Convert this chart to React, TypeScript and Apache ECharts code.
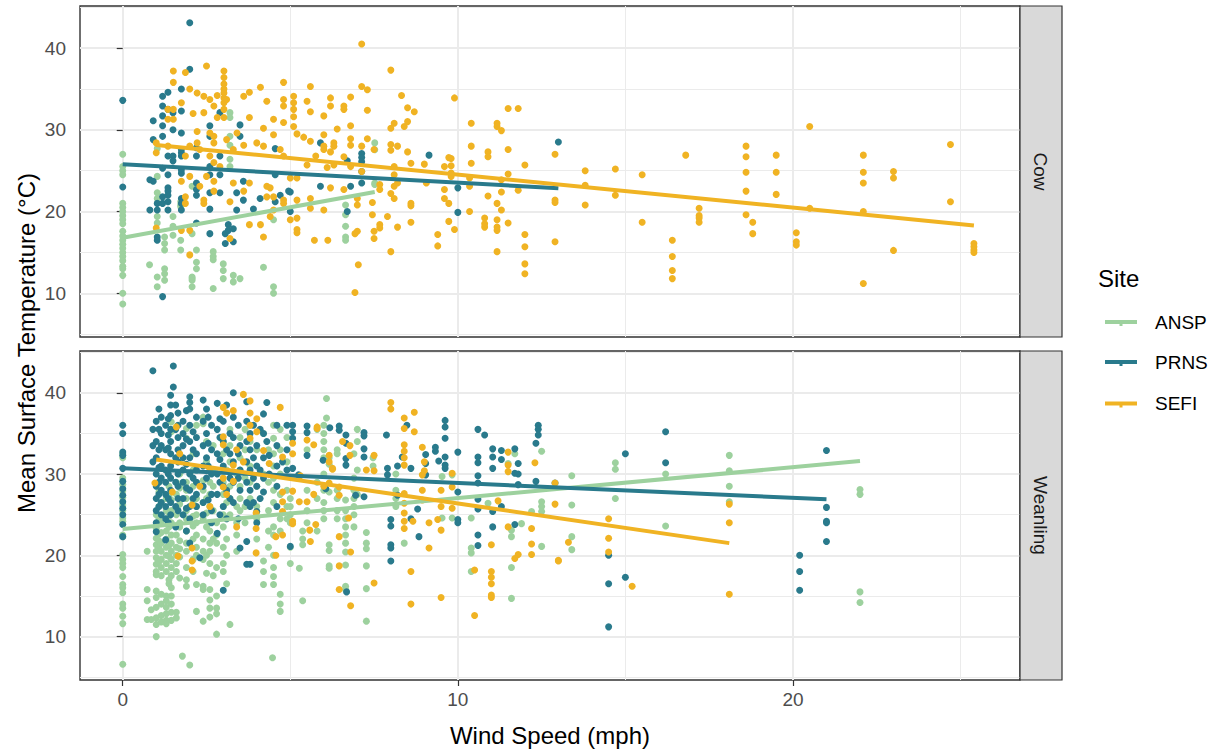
import React, { useEffect, useRef } from "react";
import * as echarts from "echarts";

// ---------- data ----------
const SITES = ["ANSP", "PRNS", "SEFI"];
const SITE_COLORS = ["#9DD19E", "#297A8C", "#F0B323"];
const FACETS = ["Cow", "Weanling"];
const X_TICKS = [0, 10, 20];
const X_MINOR = [5, 15, 25];
const Y_TICKS = [10, 20, 30, 40];
const Y_MINOR = [5, 15, 25, 35, 45];
const X_RANGE = [-1.275, 26.775];
const Y_RANGE = [4.66, 45.14];

// columns: [wind speed, [temperatures...]]
const cowANSP: [number, number[]][] = [
  [0, [27.0, 25.5, 25.0, 24.5, 21.0, 20.5, 20.0, 19.5, 19.0, 18.5, 17.6, 17.0, 16.5, 16.0, 15.5, 15.0, 14.5, 14.0, 13.3, 13.0, 12.2, 10.0, 8.7]],
  [0.8, [13.5]],
  [1.03, [27.7, 24.3, 22.3, 21.6, 19.4, 18.6, 12.0, 10.8]],
  [1.25, [16.9, 16.1, 15.3, 13.0, 12.4, 11.6]],
  [1.5, [19.4, 18.2, 17.1]],
  [1.73, [21.2, 20.8, 20.6, 16.5, 15.3]],
  [2.07, [23.1, 17.3, 12.0, 11.8, 11.6, 10.8]],
  [2.2, [15.3, 13.8, 13.0]],
  [2.7, [15.1, 14.5, 14.1, 10.6]],
  [3.0, [13.6, 12.8, 11.8]],
  [3.2, [32.1, 31.5, 29.2, 28.1, 26.4, 25.5]],
  [3.3, [12.2, 11.4]],
  [3.5, [11.8]],
  [4.2, [13.2]],
  [4.5, [19.0, 10.8, 10.0]],
  [6.65, [20.8, 19.6, 18.2, 16.9, 16.5]],
  [7.52, [28.4, 27.55, 23.5, 23.3]],
];

const cowPRNS: [number, number[]][] = [
  [0, [33.6, 23.0]],
  [0.81, [23.9, 20.2]],
  [0.91, [31.1, 28.8, 23.7]],
  [1.03, [21.0, 20.2, 16.9, 16.5]],
  [1.19, [34.1, 32.9, 31.7, 30.5, 29.2, 25.3, 21.8, 21.0, 9.6]],
  [1.35, [34.6, 32.5, 26.8, 24.5, 22.9, 22.5, 22.0, 21.2, 20.2]],
  [1.5, [32.1, 30.0, 26.8, 26.2]],
  [1.75, [35.0, 32.3, 29.6, 27.6, 27.2, 26.8, 25.1, 24.7, 21.6, 21.0, 20.2]],
  [2.0, [43.1, 37.4]],
  [2.2, [27.8, 26.8, 23.5, 22.7, 22.0, 18.6]],
  [2.6, [30.5, 29.2, 25.5, 24.5, 22.3, 20.3, 17.3]],
  [2.9, [32.1, 26.8, 24.5, 22.3]],
  [3.06, [17.3, 16.1]],
  [3.15, [18.4, 17.7]],
  [3.3, [17.9, 16.3]],
  [3.4, [22.3, 20.2]],
  [3.5, [30.6, 29.2]],
  [3.6, [23.7, 21.4]],
  [3.9, [20.3]],
  [4.1, [21.6]],
  [4.55, [27.7, 24.5, 21.2]],
  [4.7, [22.0]],
  [4.95, [22.5]],
  [5.0, [22.4, 20.0]],
  [5.9, [28.4, 23.1]],
  [6.7, [26.2, 20.0]],
  [6.8, [23.1]],
  [7.13, [27.1, 26.6, 26.1, 24.9, 23.5]],
  [9.14, [26.9]],
  [10.0, [22.9, 19.9]],
  [13.0, [28.5]],
];

const cowSEFI: [number, number[]][] = [
  [1.0, [28.4, 27.2, 18.0]],
  [1.35, [32.5, 31.3, 28.0]],
  [1.51, [37.2, 35.8, 32.5, 31.3]],
  [1.75, [33.3, 23.7, 17.7]],
  [1.87, [37.0, 26.8, 21.8, 21.0]],
  [2.0, [35.0, 28.0, 24.3, 17.7, 14.7]],
  [2.1, [32.0]],
  [2.22, [34.5, 29.8, 28.4]],
  [2.3, [27.6, 23.1]],
  [2.42, [34.1, 32.1, 21.4, 21.0]],
  [2.5, [37.8, 24.3]],
  [2.6, [33.7, 29.6, 26.8]],
  [2.72, [32.9, 29.2, 28.4, 26.0, 23.7, 22.5]],
  [2.82, [34.2, 31.5]],
  [2.9, [25.5]],
  [3.02, [37.2, 36.4, 35.6, 35.0, 34.5, 33.9, 33.3, 32.5, 31.5]],
  [3.1, [33.7, 28.8]],
  [3.2, [21.2, 16.7]],
  [3.3, [27.6, 23.5]],
  [3.41, [29.6]],
  [3.61, [34.1, 28.1, 22.5]],
  [3.78, [34.6, 31.5, 23.5, 18.4]],
  [4.0, [28.4]],
  [4.11, [35.2, 18.4]],
  [4.2, [30.2, 28.0, 16.9]],
  [4.3, [33.5, 23.1, 21.8]],
  [4.4, [22.9, 19.4]],
  [4.5, [31.3, 29.4, 21.8, 20.2]],
  [4.7, [27.6]],
  [4.8, [35.8, 33.7, 32.9, 30.9, 26.8, 21.4, 21.0]],
  [5.0, [24.1, 19.0]],
  [5.1, [34.1, 33.3, 32.5, 31.6, 30.4]],
  [5.2, [29.5, 24.1, 21.4, 19.2, 17.8, 17.4]],
  [5.4, [29.1]],
  [5.5, [33.5, 25.7]],
  [5.6, [35.3, 32.2, 28.6, 21.6, 20.4]],
  [5.72, [16.5]],
  [5.76, [26.8]],
  [6.0, [31.7, 29.4, 28.0, 27.6, 20.2]],
  [6.1, [25.4]],
  [6.12, [16.5]],
  [6.2, [33.9, 32.9, 27.3, 22.9]],
  [6.3, [28.4, 28.0, 25.7]],
  [6.4, [30.1]],
  [6.6, [32.9, 32.5, 26.7, 22.7]],
  [6.8, [34.0, 30.5, 28.9, 28.1, 25.5]],
  [6.93, [17.3, 10.1]],
  [7.0, [21.6, 20.8, 17.6]],
  [7.03, [13.5]],
  [7.13, [40.5, 35.3, 28.0, 24.9]],
  [7.3, [34.9, 32.4, 28.9]],
  [7.45, [21.1, 19.6]],
  [7.5, [27.6, 17.6, 16.7]],
  [7.67, [23.3, 22.7, 18.4, 18.0]],
  [7.9, [19.4]],
  [8.0, [37.3, 30.2, 28.2, 27.5, 22.2, 15.1]],
  [8.1, [30.8, 25.5, 24.5, 23.1, 21.6]],
  [8.2, [28.0, 23.5, 18.1]],
  [8.32, [34.2]],
  [8.4, [30.4]],
  [8.5, [32.7, 31.0, 27.3]],
  [8.6, [25.9, 21.0, 20.7, 18.7]],
  [8.7, [32.2]],
  [9.0, [25.8]],
  [9.06, [23.5]],
  [9.4, [17.2, 15.8]],
  [9.6, [25.5, 22.7, 21.6]],
  [9.73, [26.6, 21.0, 18.8]],
  [9.8, [26.5, 25.6, 24.7, 24.3]],
  [9.9, [33.9, 17.8]],
  [10.35, [24.1, 23.1, 20.0]],
  [10.4, [30.8, 28.0, 25.9]],
  [10.8, [19.2, 18.5, 18.1]],
  [10.9, [27.3, 26.7, 21.9]],
  [11.17, [30.8, 30.4, 21.0, 19.0, 18.1, 17.7, 15.1]],
  [11.3, [29.9, 23.9, 22.4, 20.2]],
  [11.5, [32.6, 27.6, 24.6, 18.6]],
  [11.8, [32.6, 22.6]],
  [12.0, [25.7, 17.2, 15.7, 13.6, 12.4]],
  [12.9, [27.0, 21.4, 21.1, 16.3]],
  [13.8, [25.0, 23.2, 20.8]],
  [14.7, [25.2, 22.0]],
  [15.5, [24.5, 18.7]],
  [16.4, [16.5, 14.5, 12.8, 11.8]],
  [16.8, [26.9]],
  [17.2, [20.4, 19.5, 19.2, 18.7]],
  [18.6, [28.0, 26.7, 24.8, 22.5, 19.6]],
  [18.8, [18.7, 17.3]],
  [19.5, [26.9, 24.8, 22.1]],
  [20.1, [17.4, 16.3, 15.9]],
  [20.5, [30.4, 20.4]],
  [22.1, [26.9, 24.8, 23.5, 20.0, 11.2]],
  [23.0, [24.9, 24.1, 15.25]],
  [24.7, [28.2, 21.2]],
  [25.4, [16.1, 15.7, 15.3, 15.0]],
];

const weanANSP: [number, number[]][] = [
  [0, [32.5, 32.0, 29.5, 28.7, 27.9, 27.1, 26.2, 25.5, 24.6, 24.2, 22.5, 22.3, 20.1, 19.5, 19.0, 18.5, 17.4, 16.4, 16.0, 15.4, 14.0, 13.5, 12.5, 11.6, 6.6]],
  [0.73, [20.5, 15.8, 14.4, 12.1]],
  [0.85, [13.3, 12.1]],
  [1.0, [25.0, 23.3, 22.1, 21.3, 20.5, 19.7, 18.9, 18.0, 17.6, 15.6, 14.8, 13.6, 12.3, 11.5, 10.0]],
  [1.08, [29.0, 27.8, 26.0, 24.6, 22.6, 21.8, 20.9, 19.2]],
  [1.15, [26.5, 24.0, 22.8, 21.5, 20.5, 19.5, 18.5, 17.5, 15.2, 14.0, 12.6, 11.8]],
  [1.3, [27.0, 25.5, 23.0, 22.0, 21.0, 20.0, 19.0, 18.0, 15.0, 14.4, 13.6, 12.8, 12.0, 11.6]],
  [1.38, [28.5, 27.3, 24.8, 23.5, 21.2, 19.9, 17.0, 16.5]],
  [1.45, [36.4, 35.2, 26.8, 25.5, 24.0, 22.5, 21.5, 20.5, 19.5, 18.5, 17.5, 16.0, 15.0, 14.0, 13.0, 12.0]],
  [1.6, [29.0, 27.5, 25.0, 22.5, 21.0, 20.0, 19.0, 18.0, 13.0, 12.3]],
  [1.7, [30.0, 28.3, 26.3, 24.0, 23.5, 21.8, 20.8, 19.8, 17.2]],
  [1.78, [7.6]],
  [1.9, [35.6, 34.4, 29.0, 28.0, 27.0, 25.5, 24.5, 23.0, 21.5, 20.5, 18.5, 17.0, 16.2]],
  [2.0, [6.5]],
  [2.1, [32.5, 30.5, 28.5, 26.5, 24.8, 23.6, 22.0, 19.5, 18.0]],
  [2.2, [36.0, 29.0, 27.0, 26.0, 25.0, 24.0, 22.5, 21.0, 20.0, 16.4, 13.1]],
  [2.4, [37.0, 36.2, 29.2, 28.0, 26.5, 24.5, 22.0, 20.5, 19.5, 16.2, 15.8, 11.9]],
  [2.5, [34.0, 31.5, 27.0, 25.2, 23.5, 20.0, 17.8]],
  [2.6, [29.0, 27.5, 26.0, 24.0, 23.0, 21.5, 20.5, 19.0, 15.8, 14.5, 13.5, 12.4]],
  [2.7, [33.5, 30.5, 28.5, 25.5, 22.0, 17.5]],
  [2.8, [24.0, 22.5, 21.5, 18.5, 15.0, 13.5, 12.8, 10.3]],
  [3.0, [34.0, 32.5, 29.0, 27.5, 26.0, 25.0, 23.5, 21.0, 19.0, 18.0]],
  [3.1, [30.5, 26.5, 24.5, 22.0, 20.0, 16.5]],
  [3.2, [35.5, 33.5, 31.5, 28.5, 27.0, 25.0, 11.5]],
  [3.4, [30.0, 26.0, 24.0, 22.5, 20.5]],
  [3.5, [34.5, 32.0, 30.5, 28.5, 27.0, 25.5]],
  [3.65, [35.5, 33.0, 29.5, 26.0, 24.0]],
  [3.8, [36.0, 34.0, 31.0, 29.0, 27.0]],
  [4.0, [33.0, 28.5, 26.0, 24.5, 22.0]],
  [4.2, [35.0, 30.0, 19.3, 18.0, 16.4]],
  [4.35, [33.0, 29.0, 25.5, 23.0, 21.0]],
  [4.47, [7.4]],
  [4.5, [36.0, 34.4, 32.5, 31.0, 29.5, 28.0, 26.5, 23.5, 22.5, 20.0, 18.5, 17.4, 16.4]],
  [4.7, [35.5, 33.0, 30.0, 27.5, 24.5, 23.0, 15.2, 14.0, 13.1]],
  [4.9, [34.5, 31.5, 28.0, 26.0, 24.5]],
  [5.0, [27.0, 26.0, 25.0, 24.0, 21.0, 19.0]],
  [5.27, [18.4]],
  [5.37, [23.0, 22.0, 21.3, 14.4]],
  [5.5, [33.0, 28.0, 25.5, 24.0]],
  [5.8, [35.5, 29.0, 27.0, 23.0]],
  [6.0, [36.0, 35.0, 34.0, 33.0, 32.0, 30.0, 28.0, 26.5, 25.5, 24.5]],
  [6.08, [39.3, 36.9]],
  [6.16, [32.0, 31.2, 27.8, 21.3, 20.6, 18.7, 18.4]],
  [6.4, [33.0, 32.5, 28.0, 27.0, 25.5, 24.5]],
  [6.65, [26.8, 25.5, 24.5, 23.5, 22.5, 21.5, 20.4, 18.8, 16.2, 15.8]],
  [6.9, [32.5, 29.5, 28.0, 27.0, 26.0, 25.0, 23.5]],
  [7.0, [35.5, 34.0, 30.5, 27.5]],
  [7.27, [22.8, 21.5, 20.8, 18.7, 15.9, 11.9]],
  [7.47, [32.0, 31.0]],
  [8.15, [30.0, 28.0, 27.0, 26.0]],
  [8.4, [21.5]],
  [9.53, [29.7, 24.6]],
  [9.83, [29.9, 24.6]],
  [10.4, [24.6, 20.9, 20.3, 18.0]],
  [10.9, [26.4]],
  [11.5, [31.3]],
  [11.6, [23.1, 22.3, 18.5, 14.7]],
  [11.7, [32.5]],
  [11.9, [23.9]],
  [12.2, [25.4]],
  [12.5, [32.8, 26.6, 26.0, 25.4, 21.1]],
  [13.4, [29.8, 26.2, 22.3, 20.7]],
  [14.7, [31.4, 30.6, 27.0]],
  [16.2, [30.0, 23.6]],
  [18.1, [32.3, 30.4, 28.5, 26.6]],
  [22.0, [28.1, 27.5, 15.5, 14.2]],
];

const weanPRNS: [number, number[]][] = [
  [0, [36.0, 35.0, 32.7, 32.3, 30.7, 29.1, 28.2, 27.4, 26.6, 25.8, 25.0, 23.8, 22.3]],
  [0.9, [42.7, 35.5, 33.5, 31.5]],
  [1.0, [36.5, 34.0, 32.0, 30.0, 28.5, 27.0, 25.5, 24.0, 22.9]],
  [1.08, [38.0, 35.5, 33.0, 30.8, 29.0, 27.5, 26.0]],
  [1.15, [37.0, 35.0, 33.5, 31.0, 29.5, 28.0, 26.5, 25.0]],
  [1.28, [36.0, 33.0, 30.5, 29.0, 27.5, 26.0, 24.5, 21.9]],
  [1.36, [36.8, 34.8, 33.2, 30.0, 27.0, 24.0]],
  [1.43, [39.7, 38.5, 37.2, 35.5, 34.0, 32.5, 31.0, 29.5, 28.0, 26.5, 25.0]],
  [1.51, [43.3, 40.7]],
  [1.58, [38.5, 35.5, 32.0, 29.0, 26.0, 23.5]],
  [1.65, [37.5, 36.0, 34.5, 33.0, 31.5, 30.0, 28.5, 27.0, 25.5]],
  [1.8, [36.5, 35.0, 33.5, 32.0, 30.5, 29.0, 27.0, 25.0]],
  [1.9, [37.8, 34.3, 31.2, 28.3, 25.8, 23.0]],
  [2.0, [39.5, 38.8, 38.0, 36.0, 34.0, 32.0, 30.0, 28.0, 26.0, 24.5, 21.5]],
  [2.1, [35.2, 33.0, 29.5, 27.0]],
  [2.2, [37.0, 34.5, 32.5, 30.5, 29.0, 27.5, 26.0]],
  [2.3, [19.7]],
  [2.4, [39.1, 36.5, 33.5, 31.0, 28.5, 26.5, 25.0]],
  [2.5, [38.0, 35.0, 32.0, 29.5]],
  [2.55, [37.0, 33.8, 31.0, 26.8]],
  [2.65, [36.0, 33.0, 30.0, 27.5, 25.5, 24.0]],
  [2.82, [38.7, 35.5, 32.5, 30.0, 27.5, 22.7]],
  [2.9, [36.8, 34.5, 31.8, 29.0, 25.0]],
  [3.0, [36.5, 34.0, 31.0, 28.5, 26.0, 15.7]],
  [3.1, [38.5, 33.0, 28.0, 24.5]],
  [3.2, [35.0, 32.5, 29.5, 27.0]],
  [3.3, [40.0, 37.0, 34.5, 31.5, 29.0, 26.5]],
  [3.45, [36.0, 32.5, 29.5, 24.5]],
  [3.5, [33.5, 30.5, 28.0, 20.9]],
  [3.7, [38.9, 36.5, 34.0, 31.5, 29.0, 26.5, 21.7, 18.9]],
  [3.8, [35.0, 33.0, 30.5, 28.0, 26.0, 18.9]],
  [3.9, [36.0, 32.0, 29.5, 26.5]],
  [4.0, [33.5, 31.0, 28.5, 25.4, 24.0]],
  [4.1, [35.5, 30.5, 27.0]],
  [4.2, [37.4, 35.0, 32.0, 29.5, 27.8]],
  [4.3, [38.8, 34.0]],
  [4.37, [32.3, 30.0]],
  [4.6, [36.0, 33.5, 31.0, 28.5, 26.0]],
  [4.77, [31.5]],
  [4.9, [36.0, 33.0, 30.5]],
  [5.0, [21.1]],
  [5.07, [36.0, 35.2, 34.4, 30.7]],
  [5.25, [29.9]],
  [5.5, [35.9, 35.1, 32.3]],
  [5.98, [31.7]],
  [6.06, [28.2]],
  [6.18, [35.7]],
  [6.46, [35.9, 35.4]],
  [6.66, [34.8, 33.8, 31.9, 31.1]],
  [6.68, [15.5]],
  [6.95, [27.4]],
  [7.2, [35.1, 34.7, 33.1, 32.1, 27.2]],
  [7.87, [34.8]],
  [7.9, [30.7, 29.9]],
  [8.0, [24.4, 23.6, 21.3, 20.9, 19.3]],
  [8.2, [31.0, 27.4]],
  [8.34, [32.1]],
  [8.48, [36.0]],
  [8.6, [30.7, 24.5]],
  [8.8, [25.7]],
  [8.84, [22.3]],
  [9.04, [32.4, 31.3, 29.9]],
  [9.33, [33.3, 32.8]],
  [9.43, [31.6]],
  [9.62, [36.6, 35.8, 34.4, 32.1, 31.1, 30.7]],
  [10.0, [32.7, 27.8, 24.4, 24.0]],
  [10.6, [35.5, 32.1, 31.4, 29.8, 28.9, 26.9, 25.7, 22.5, 21.2]],
  [10.8, [34.8]],
  [11.04, [33.1, 32.1, 30.7, 25.4, 23.5]],
  [11.3, [32.9, 31.8, 26.0]],
  [11.7, [33.1, 30.1, 23.8]],
  [11.8, [31.3, 30.0, 28.7]],
  [12.33, [33.8, 29.1]],
  [12.4, [36.0, 35.5, 34.8]],
  [12.9, [28.9]],
  [14.5, [20.0, 16.5, 11.2]],
  [15.0, [32.5, 17.3]],
  [16.2, [35.2, 31.4]],
  [20.2, [20.0, 18.0, 15.7]],
  [21.0, [32.9, 25.9, 24.2, 24.0, 21.7]],
];

const weanSEFI: [number, number[]][] = [
  [0.96, [28.9]],
  [1.48, [27.8]],
  [1.6, [35.8]],
  [1.65, [19.9]],
  [1.7, [32.5]],
  [2.07, [26.2, 20.9, 19.3, 18.2]],
  [2.3, [28.5]],
  [2.6, [30.5, 26.0]],
  [3.0, [38.2, 34.6, 33.6, 29.5, 28.4]],
  [3.1, [37.5, 27.5]],
  [3.3, [37.8, 31.1, 29.1]],
  [3.4, [33.0, 23.5]],
  [3.6, [39.8, 31.5]],
  [3.8, [39.0, 37.5, 36.0, 34.4]],
  [3.98, [25.2, 23.3, 20.3]],
  [4.0, [36.8, 35.2]],
  [4.2, [32.9]],
  [4.37, [31.3]],
  [4.57, [22.3, 20.0]],
  [4.7, [38.2]],
  [4.77, [32.1, 27.8, 26.6, 25.4, 22.5]],
  [5.07, [33.8, 32.5, 27.9, 24.2, 23.9]],
  [5.27, [26.6]],
  [5.3, [29.8]],
  [5.5, [34.2, 26.6]],
  [5.58, [23.1]],
  [5.6, [21.7]],
  [5.7, [33.6, 27.5]],
  [5.76, [23.8]],
  [5.8, [35.8, 35.6]],
  [6.0, [28.5]],
  [6.16, [32.3, 31.5, 28.9]],
  [6.26, [30.7, 30.6]],
  [6.46, [28.4, 27.4, 22.3, 18.7, 15.8]],
  [6.56, [34.0]],
  [6.74, [24.6]],
  [6.78, [33.5, 32.3]],
  [6.8, [20.4, 13.8]],
  [7.27, [30.5]],
  [7.5, [32.3, 30.4, 16.6]],
  [8.0, [38.8, 38.0]],
  [8.4, [36.9, 35.6, 33.6, 32.8, 32.0, 31.1, 27.6, 26.4, 25.2, 24.2, 23.3]],
  [8.6, [18.0, 14.0]],
  [8.66, [24.2]],
  [8.7, [37.6, 35.2]],
  [8.94, [33.3, 29.9, 28.0, 26.8]],
  [9.0, [31.5, 30.4]],
  [9.14, [24.0, 20.9]],
  [9.4, [24.4]],
  [9.5, [28.0, 26.0, 23.1, 14.8]],
  [9.83, [30.1, 28.4, 25.8]],
  [10.5, [18.2, 12.6]],
  [11.0, [21.3, 18.0, 17.3, 16.5, 15.1, 14.8]],
  [11.2, [26.7]],
  [11.5, [32.7, 31.1, 30.3, 23.5]],
  [11.7, [19.6]],
  [11.8, [20.1]],
  [12.2, [23.3, 21.4, 20.1]],
  [12.3, [31.4]],
  [12.9, [28.9, 26.3]],
  [13.0, [19.4, 19.3]],
  [13.3, [21.6]],
  [14.5, [24.5, 22.1, 20.4]],
  [15.2, [16.2]],
  [18.1, [26.3, 24.0, 15.2]],
];

// fitted linear trends: [start, end] points
const cowFitANSP = [[0, 16.8], [7.52, 22.4]];
const cowFitPRNS = [[0, 25.8], [13.0, 22.85]];
const cowFitSEFI = [[1.0, 28.15], [25.4, 18.3]];
const weanFitANSP = [[0, 23.25], [22.0, 31.6]];
const weanFitPRNS = [[0, 30.7], [21.0, 26.9]];
const weanFitSEFI = [[1.0, 31.8], [18.1, 21.5]];

// ---------- helpers ----------
const flat = (cols: [number, number[]][]) =>
  cols.flatMap(([x, ys]) => ys.map((y) => [x, y]));

const FONT = "'Liberation Sans', Arial, 'DejaVu Sans', sans-serif";

const POINTS = [
  [cowANSP, cowPRNS, cowSEFI],
  [weanANSP, weanPRNS, weanSEFI],
];
const FITS = [
  [cowFitANSP, cowFitPRNS, cowFitSEFI],
  [weanFitANSP, weanFitPRNS, weanFitSEFI],
];

const GRIDS = [
  { left: 80, top: 6, width: 940, height: 331 },
  { left: 80, top: 351, width: 940, height: 329 },
];

export default function App() {
  const ref = useRef<HTMLDivElement>(null);

  useEffect(() => {
    if (!ref.current) return;
    const chart = echarts.init(ref.current, undefined, { renderer: "svg" });

    const gridLine = (major: boolean) => ({
      color: "#EBEBEB",
      width: major ? 2 : 1,
      type: "solid",
    });

    const series: any[] = [];
    FACETS.forEach((_, i) => {
      // panel grid lines drawn through the axes' own scales
      series.push({
        type: "line",
        xAxisIndex: i,
        yAxisIndex: i,
        data: [],
        silent: true,
        z: 0,
        markLine: {
          silent: true,
          z: 0,
          symbol: ["none", "none"],
          label: { show: false },
          animation: false,
          data: [
            ...X_MINOR.map((v) => ({ xAxis: v, lineStyle: gridLine(false) })),
            ...Y_MINOR.map((v) => ({ yAxis: v, lineStyle: gridLine(false) })),
            ...X_TICKS.map((v) => ({ xAxis: v, lineStyle: gridLine(true) })),
            ...Y_TICKS.map((v) => ({ yAxis: v, lineStyle: gridLine(true) })),
          ],
        },
      });
    });
    FACETS.forEach((_, i) => {
      SITES.forEach((site, s) => {
        series.push({
          name: site,
          type: "scatter",
          xAxisIndex: i,
          yAxisIndex: i,
          data: flat(POINTS[i][s] as [number, number[]][]),
          symbolSize: 7,
          itemStyle: { color: SITE_COLORS[s], opacity: 1 },
          silent: true,
          z: 6,
        });
      });
    });
    FACETS.forEach((_, i) => {
      SITES.forEach((site, s) => {
        series.push({
          name: site + " fit",
          type: "line",
          xAxisIndex: i,
          yAxisIndex: i,
          data: FITS[i][s],
          showSymbol: false,
          symbol: "none",
          lineStyle: { color: SITE_COLORS[s], width: 4 },
          silent: true,
          z: 7,
        });
      });
    });

    const xAxes = FACETS.map((_, i) => ({
      type: "value",
      gridIndex: i,
      min: X_RANGE[0],
      max: X_RANGE[1],
      axisLine: { show: false },
      splitLine: { show: false },
      axisTick: {
        show: i === 1,
        customValues: X_TICKS,
        length: 6,
        lineStyle: { color: "#333333", width: 1.2 },
      },
      axisLabel: {
        show: i === 1,
        customValues: X_TICKS,
        margin: 10,
        color: "#4D4D4D",
        fontSize: 19,
        fontFamily: FONT,
      },
    }));
    const yAxes = FACETS.map((_, i) => ({
      type: "value",
      gridIndex: i,
      min: Y_RANGE[0],
      max: Y_RANGE[1],
      axisLine: { show: false },
      splitLine: { show: false },
      axisTick: {
        show: true,
        customValues: Y_TICKS,
        length: 6,
        lineStyle: { color: "#333333", width: 1.2 },
      },
      axisLabel: {
        show: true,
        customValues: Y_TICKS,
        margin: 14,
        color: "#4D4D4D",
        fontSize: 19,
        fontFamily: FONT,
      },
    }));

    const graphic: any[] = [];
    // facet strips
    FACETS.forEach((f, i) => {
      const g = GRIDS[i];
      graphic.push({
        type: "rect",
        shape: { x: g.left + g.width, y: g.top, width: 42, height: g.height },
        style: { fill: "#D9D9D9", stroke: "#333333", lineWidth: 1.2 },
        z: 10,
      });
      graphic.push({
        type: "text",
        x: g.left + g.width + 20,
        y: g.top + g.height / 2,
        rotation: -Math.PI / 2,
        style: {
          text: f,
          fill: "#1A1A1A",
          fontSize: 19,
          fontFamily: FONT,
          textAlign: "center",
          textVerticalAlign: "middle",
        },
        z: 11,
      });
    });
    // axis titles
    graphic.push({
      type: "text",
      x: 26,
      y: 343,
      rotation: Math.PI / 2,
      style: {
        text: "Mean Surface Temperature (°C)",
        fill: "#000000",
        fontSize: 24,
        fontFamily: FONT,
        textAlign: "center",
        textVerticalAlign: "middle",
      },
    });
    graphic.push({
      type: "text",
      x: 550,
      y: 735,
      style: {
        text: "Wind Speed (mph)",
        fill: "#000000",
        fontSize: 24,
        fontFamily: FONT,
        textAlign: "center",
        textVerticalAlign: "middle",
      },
    });
    // legend
    graphic.push({
      type: "text",
      x: 1098,
      y: 278,
      style: {
        text: "Site",
        fill: "#000000",
        fontSize: 24,
        fontFamily: FONT,
        textAlign: "left",
        textVerticalAlign: "middle",
      },
    });
    const keyY = [322, 362, 403.5];
    SITES.forEach((site, s) => {
      graphic.push({
        type: "line",
        shape: { x1: 1105, y1: keyY[s], x2: 1137, y2: keyY[s] },
        style: { stroke: SITE_COLORS[s], lineWidth: 4 },
      });
      graphic.push({
        type: "rect",
        shape: { x: 1119.5, y: keyY[s] + 1, width: 3, height: 3 },
        style: { fill: SITE_COLORS[s] },
      });
      graphic.push({
        type: "text",
        x: 1155,
        y: keyY[s],
        style: {
          text: site,
          fill: "#000000",
          fontSize: 19,
          fontFamily: FONT,
          textAlign: "left",
          textVerticalAlign: "middle",
        },
      });
    });

    chart.setOption({
      animation: false,
      backgroundColor: "#FFFFFF",
      grid: GRIDS.map((g) => ({
        ...g,
        show: true,
        backgroundColor: "#FFFFFF",
        borderColor: "#333333",
        borderWidth: 1.4,
        z: 0,
      })),
      xAxis: xAxes,
      yAxis: yAxes,
      series,
      graphic,
    });

    return () => chart.dispose();
  }, []);

  return (
    <div
      ref={ref}
      style={{ position: "absolute", left: 0, top: 0, width: 1223, height: 753 }}
    />
  );
}
